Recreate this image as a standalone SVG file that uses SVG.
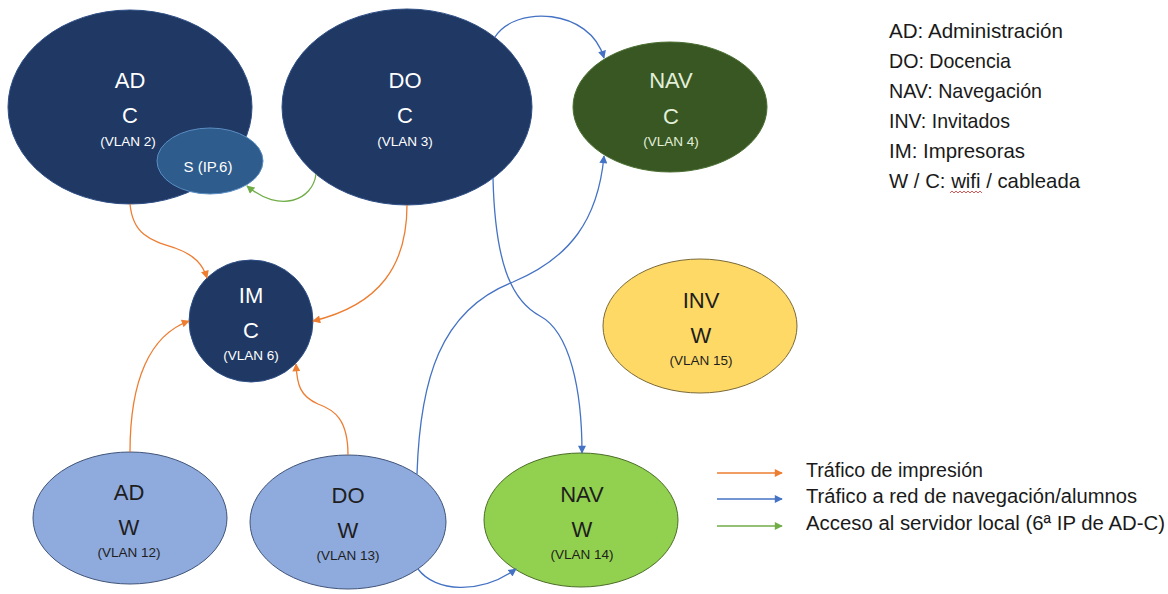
<svg xmlns="http://www.w3.org/2000/svg" width="1168" height="594" viewBox="0 0 1168 594">
<style>
  .lbl { font-family: "Liberation Sans", Arial, sans-serif; text-anchor: middle; }
  .big { font-size: 22px; }
  .sm { font-size: 13.5px; }
  .wt { fill: #ffffff; }
  .gt { fill: #e2efd9; }
  .dk { fill: #1e1e1e; }
  .navy { fill: #1f3864; stroke: #2f4f86; stroke-width: 1; }
  .srv { fill: #2e5c8c; stroke: #5b8ec4; stroke-width: 1; }
  .dgreen { fill: #385723; stroke: #4a6e31; stroke-width: 1; }
  .lblue { fill: #8faadc; stroke: #41557a; stroke-width: 1; }
  .lgreen { fill: #92d050; stroke: #4c6e2a; stroke-width: 1; }
  .yellow { fill: #ffd966; stroke: #7a6a3a; stroke-width: 1; }
  .c { fill: none; stroke-width: 1.3; }
  .or { stroke: #ed7d31; }
  .bl { stroke: #4472c4; }
  .gr { stroke: #70ad47; }
  .leg { font-family: "Liberation Sans", Arial, sans-serif; fill: #1a1a1a; }
</style>
<defs>
  <marker id="mo" viewBox="0 0 10 10" refX="9" refY="5" markerWidth="9" markerHeight="8" orient="auto" markerUnits="userSpaceOnUse"><path d="M0,0 L10,5 L0,10 z" fill="#ed7d31"/></marker>
  <marker id="mb" viewBox="0 0 10 10" refX="9" refY="5" markerWidth="9" markerHeight="8" orient="auto" markerUnits="userSpaceOnUse"><path d="M0,0 L10,5 L0,10 z" fill="#4472c4"/></marker>
  <marker id="mg" viewBox="0 0 10 10" refX="9" refY="5" markerWidth="9" markerHeight="8" orient="auto" markerUnits="userSpaceOnUse"><path d="M0,0 L10,5 L0,10 z" fill="#70ad47"/></marker>
</defs>
<rect width="1168" height="594" fill="#ffffff"/>

<g id="node-ad-c">
  <ellipse class="navy" cx="130" cy="107" rx="122" ry="97"/>
  <text class="lbl big wt" x="130" y="88">AD</text>
  <text class="lbl big wt" x="130" y="123">C</text>
  <text class="lbl sm wt" x="128" y="146">(VLAN 2)</text>
</g>
<g id="node-s">
  <ellipse class="srv" cx="210" cy="161" rx="53" ry="33"/>
  <text class="lbl wt" style="font-size:15px" x="208" y="172">S (IP.6)</text>
</g>
<g id="node-do-c">
  <ellipse class="navy" cx="407" cy="107" rx="125" ry="98"/>
  <text class="lbl big wt" x="405" y="88">DO</text>
  <text class="lbl big wt" x="405" y="123">C</text>
  <text class="lbl sm wt" x="405" y="146">(VLAN 3)</text>
</g>
<g id="node-nav-c">
  <ellipse class="dgreen" cx="670" cy="107" rx="97" ry="65"/>
  <text class="lbl big gt" x="671" y="88">NAV</text>
  <text class="lbl big gt" x="671" y="124">C</text>
  <text class="lbl sm gt" x="671" y="146">(VLAN 4)</text>
</g>
<g id="node-im-c">
  <ellipse class="navy" cx="251" cy="321" rx="62" ry="61"/>
  <text class="lbl big wt" x="251" y="303">IM</text>
  <text class="lbl big wt" x="251" y="338">C</text>
  <text class="lbl sm wt" x="251" y="360">(VLAN 6)</text>
</g>
<g id="node-inv-w">
  <ellipse class="yellow" cx="700" cy="326" rx="97" ry="67"/>
  <text class="lbl big dk" x="701" y="308">INV</text>
  <text class="lbl big dk" x="701" y="343">W</text>
  <text class="lbl sm dk" x="701" y="365">(VLAN 15)</text>
</g>
<g id="node-ad-w">
  <ellipse class="lblue" cx="130" cy="518" rx="97" ry="66"/>
  <text class="lbl big dk" x="129" y="500">AD</text>
  <text class="lbl big dk" x="129" y="535">W</text>
  <text class="lbl sm dk" x="129" y="557">(VLAN 12)</text>
</g>
<g id="node-do-w">
  <ellipse class="lblue" cx="348" cy="522" rx="98" ry="67"/>
  <text class="lbl big dk" x="348" y="503">DO</text>
  <text class="lbl big dk" x="348" y="538">W</text>
  <text class="lbl sm dk" x="348" y="560">(VLAN 13)</text>
</g>
<g id="node-nav-w">
  <ellipse class="lgreen" cx="581" cy="520" rx="97" ry="67"/>
  <text class="lbl big dk" x="582" y="502">NAV</text>
  <text class="lbl big dk" x="582" y="537">W</text>
  <text class="lbl sm dk" x="582" y="559">(VLAN 14)</text>
</g>

<g id="connectors">
  <path class="c bl" d="M495 37 C515 5, 590 8, 604 58" marker-end="url(#mb)"/>
  <path class="c bl" d="M417 474 C420 380, 440 310, 513 282 C570 258, 598 220, 604 156" marker-end="url(#mb)"/>
  <path class="c bl" d="M493 178 C495 260, 510 300, 540 316 C570 332, 582 390, 582 453" marker-end="url(#mb)"/>
  <path class="c bl" d="M418 569 C435 592, 480 595, 516 569" marker-end="url(#mb)"/>
  <path class="c gr" d="M316 174 C313 200, 280 214, 247 186" marker-end="url(#mg)"/>
  <path class="c or" d="M130 204 C133 235, 150 240, 175 248 C195 255, 203 265, 207 278" marker-end="url(#mo)"/>
  <path class="c or" d="M407 205 C407 265, 380 305, 313 321" marker-end="url(#mo)"/>
  <path class="c or" d="M130 452 C130 380, 150 335, 189 321" marker-end="url(#mo)"/>
  <path class="c or" d="M348 455 C348 420, 335 410, 318 404 C300 396, 297 385, 296 364" marker-end="url(#mo)"/>
</g>

<g id="legend-abbr">
  <text class="leg" font-size="21" x="889" y="38" textLength="174" lengthAdjust="spacingAndGlyphs">AD: Administración</text>
  <text class="leg" font-size="21" x="889" y="68" textLength="122" lengthAdjust="spacingAndGlyphs">DO: Docencia</text>
  <text class="leg" font-size="21" x="889" y="98" textLength="153" lengthAdjust="spacingAndGlyphs">NAV: Navegación</text>
  <text class="leg" font-size="21" x="889" y="128" textLength="121" lengthAdjust="spacingAndGlyphs">INV: Invitados</text>
  <text class="leg" font-size="21" x="889" y="158" textLength="136" lengthAdjust="spacingAndGlyphs">IM: Impresoras</text>
  <text class="leg" font-size="21" x="889" y="188" textLength="191" lengthAdjust="spacingAndGlyphs">W / C: wifi / cableada</text>
  <path d="M950 193 l2 -2 l2 2 l2 -2 l2 2 l2 -2 l2 2 l2 -2 l2 2 l2 -2 l2 2 l2 -2 l2 2 l2 -2 l2 2 l2 -2 l2 2" fill="none" stroke="#d03030" stroke-width="0.8"/>
</g>

<g id="legend-arrows">
  <path class="c or" d="M717 473 L782 473" marker-end="url(#mo)"/>
  <path class="c bl" d="M717 499 L782 499" marker-end="url(#mb)"/>
  <path class="c gr" d="M717 526 L782 526" marker-end="url(#mg)"/>
  <text class="leg" font-size="20" x="806" y="477" textLength="177" lengthAdjust="spacingAndGlyphs">Tráfico de impresión</text>
  <text class="leg" font-size="20" x="806" y="503" textLength="331" lengthAdjust="spacingAndGlyphs">Tráfico a red de navegación/alumnos</text>
  <text class="leg" font-size="20" x="806" y="530" textLength="359" lengthAdjust="spacingAndGlyphs">Acceso al servidor local (6ª IP de AD-C)</text>
</g>
</svg>
